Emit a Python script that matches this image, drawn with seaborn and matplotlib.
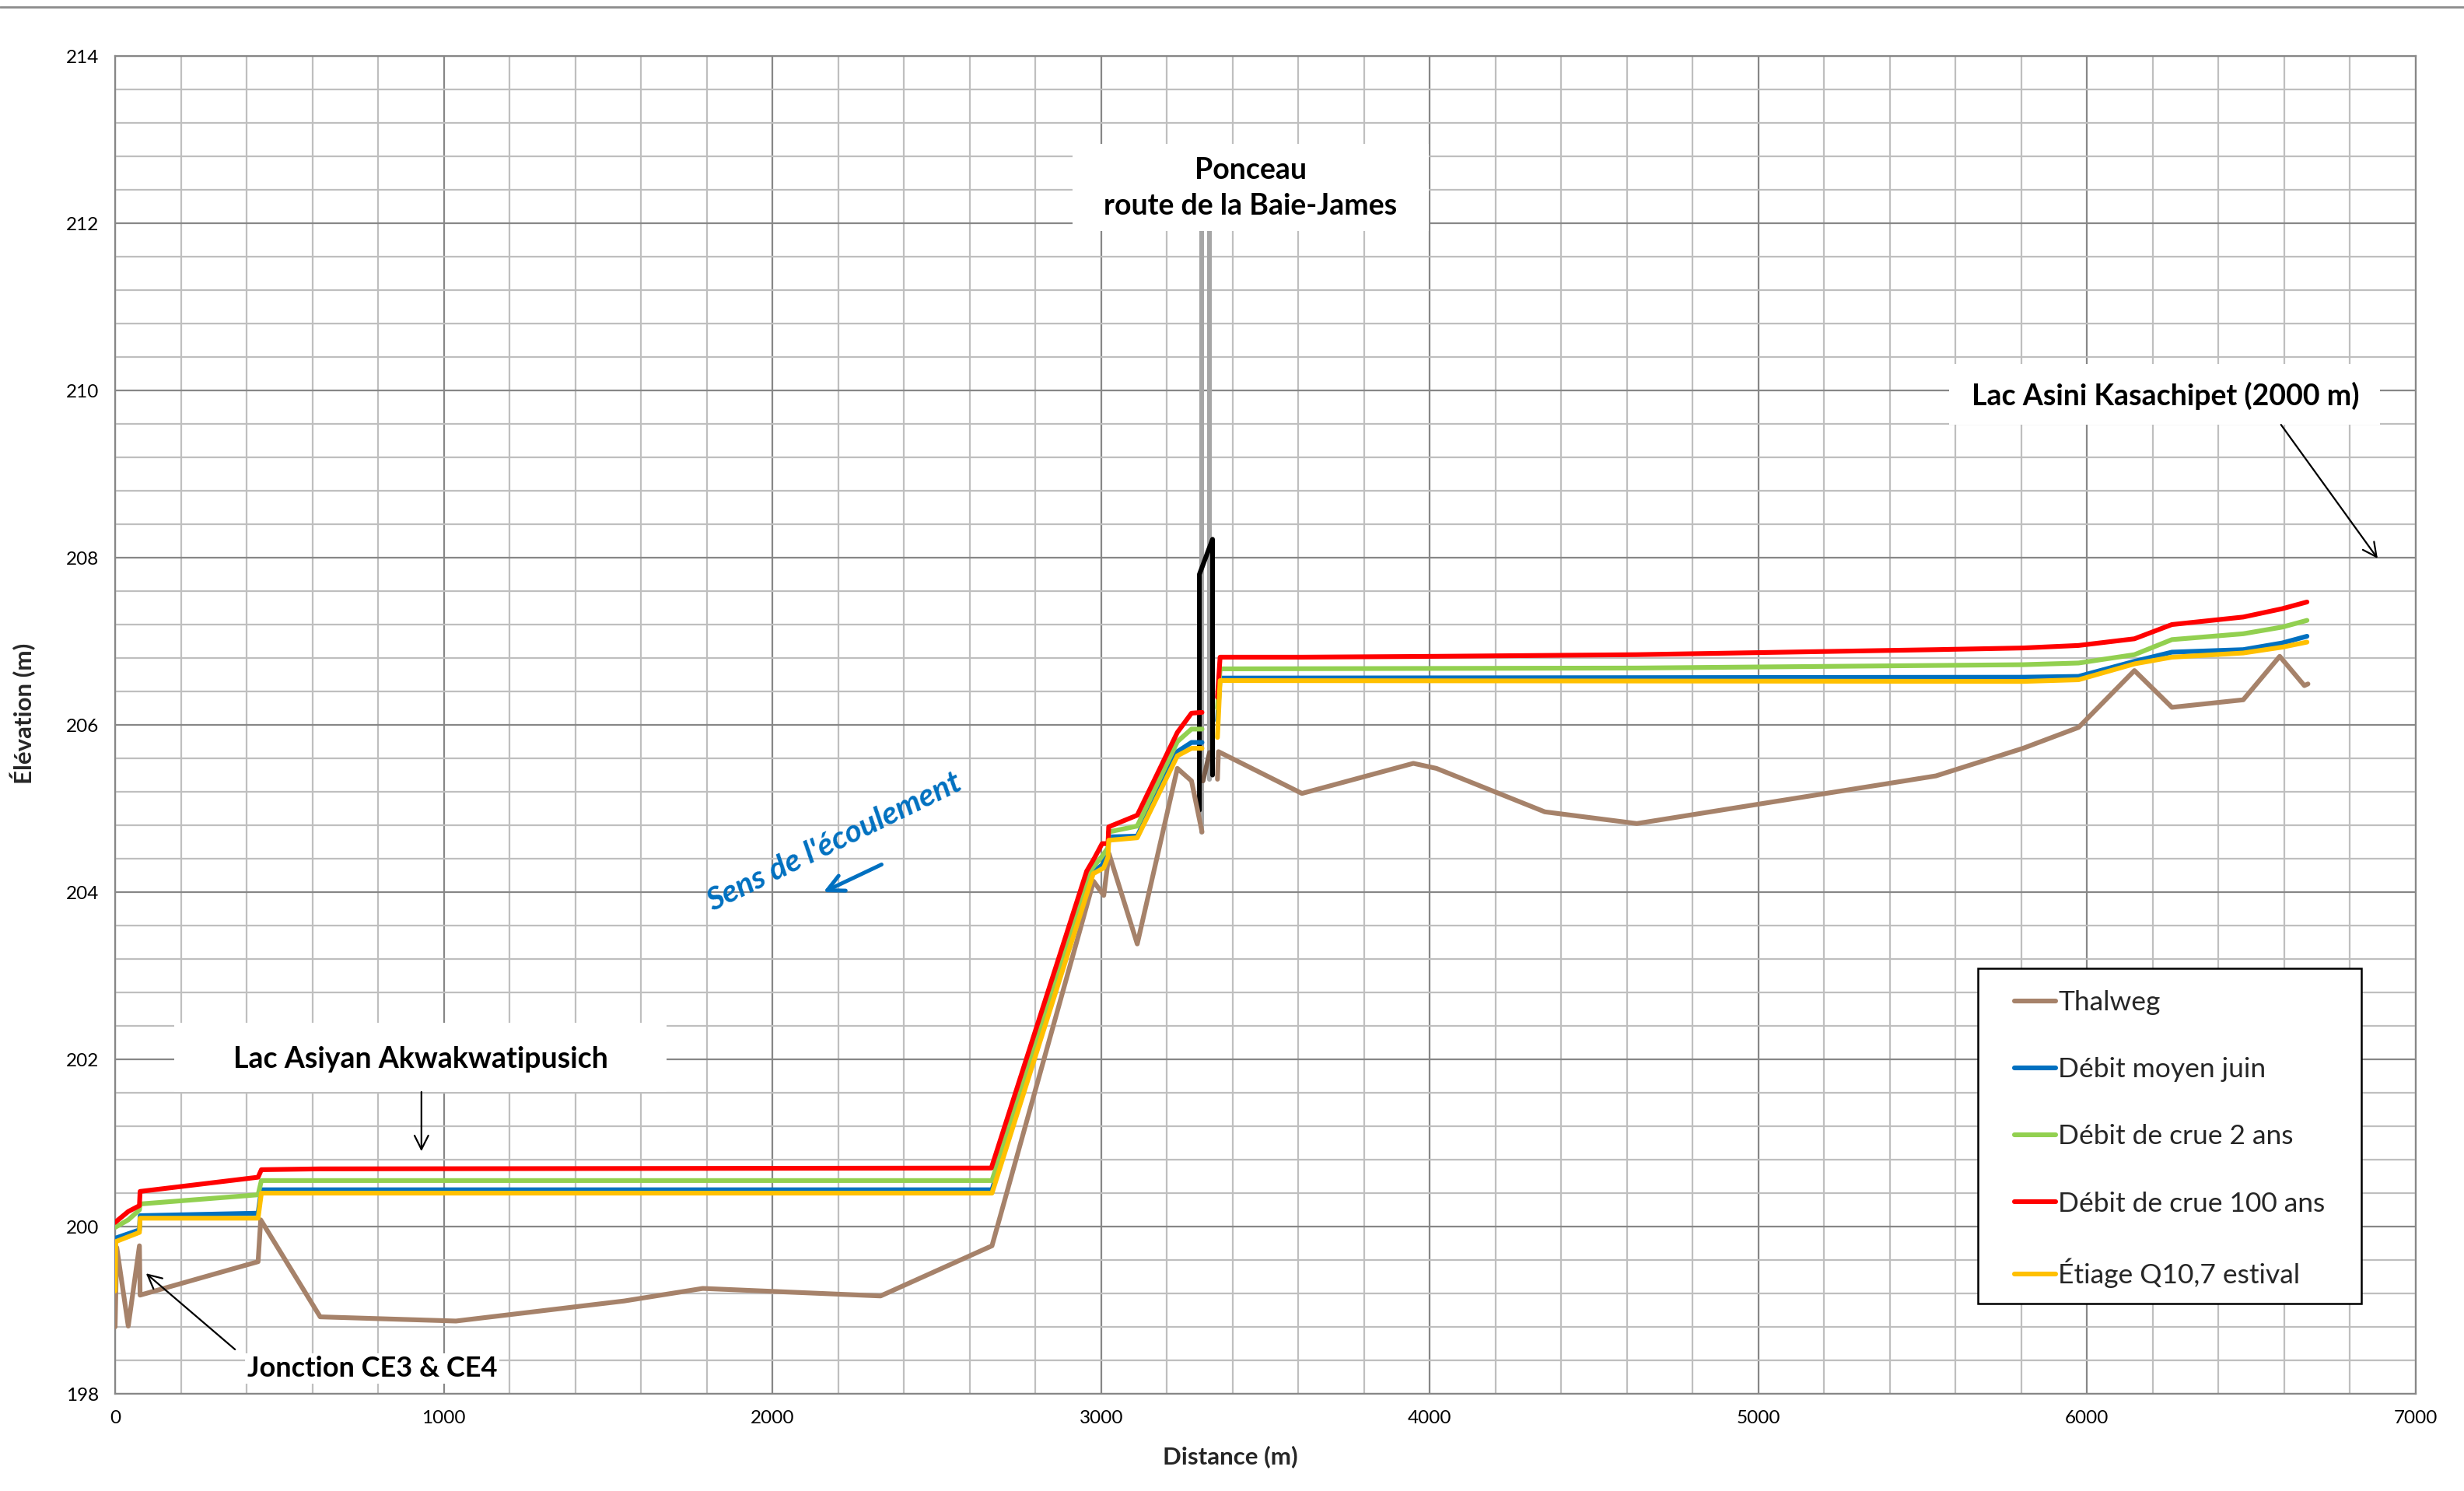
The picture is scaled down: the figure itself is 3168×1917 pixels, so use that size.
import numpy as np
import pandas as pd
import matplotlib
matplotlib.use("Agg")
import matplotlib.pyplot as plt
from matplotlib.lines import Line2D
from matplotlib.patches import Rectangle
import seaborn as sns

# ---------------------------------------------------------------- data
# Each profile is split in two reaches (upstream / downstream of the culvert).
thalweg_d1 = [0, 5, 40, 74, 76, 435, 443, 624, 1037, 1549, 1788, 2329, 2668,
              2977, 3008, 3024, 3110, 3232, 3275, 3307]
thalweg_e1 = [198.80, 199.75, 198.81, 199.77, 199.18, 199.58, 200.08, 198.92,
              198.87, 199.11, 199.26, 199.17, 199.77, 204.13, 203.96, 204.46,
              203.38, 205.48, 205.33, 204.72]
thalweg_d2 = [3354, 3357, 3611, 3950, 4020, 4350, 4630, 5540, 5805, 5974,
              6144, 6258, 6475, 6586, 6661, 6672]
thalweg_e2 = [205.35, 205.68, 205.18, 205.54, 205.48, 204.96, 204.82, 205.39,
              205.72, 205.97, 206.65, 206.21, 206.30, 206.82, 206.47, 206.49]

juin_d1 = [0, 74, 76, 435, 445, 2668, 2975, 3005, 3021, 3023, 3110, 3232, 3275, 3307]
juin_e1 = [199.86, 199.96, 200.13, 200.16, 200.44, 200.44, 204.24, 204.33,
           204.48, 204.66, 204.67, 205.68, 205.79, 205.79]
juin_d2 = [3354, 3362, 5805, 5974, 6144, 6258, 6475, 6594, 6669]
juin_e2 = [206.05, 206.56, 206.57, 206.58, 206.76, 206.87, 206.90, 206.98, 207.06]

crue2_d1 = [0, 40, 74, 76, 435, 445, 2668, 2972, 3003, 3021, 3023, 3110, 3232, 3275, 3307]
crue2_e1 = [199.99, 200.08, 200.20, 200.27, 200.38, 200.55, 200.55, 204.28,
            204.43, 204.53, 204.72, 204.79, 205.80, 205.95, 205.95]
crue2_d2 = [3354, 3362, 4630, 5805, 5974, 6144, 6258, 6475, 6594, 6669]
crue2_e2 = [206.20, 206.67, 206.68, 206.72, 206.74, 206.84, 207.02, 207.09, 207.17, 207.25]

crue100_d1 = [0, 40, 74, 76, 435, 445, 624, 2666, 2956, 2980, 3003, 3021,
              3023, 3110, 3232, 3275, 3307]
crue100_e1 = [200.05, 200.18, 200.25, 200.42, 200.59, 200.68, 200.69, 200.70,
              204.25, 204.41, 204.58, 204.58, 204.78, 204.92, 205.91, 206.14, 206.15]
crue100_d2 = [3354, 3362, 3611, 4020, 4630, 5540, 5805, 5974, 6144, 6258, 6475, 6594, 6669]
crue100_e2 = [206.33, 206.81, 206.81, 206.82, 206.84, 206.90, 206.92, 206.95,
              207.03, 207.20, 207.29, 207.39, 207.47]

etiage_d1 = [0, 2, 74, 76, 435, 445, 2668, 2976, 3008, 3021, 3023, 3110, 3232, 3275, 3307]
etiage_e1 = [199.23, 199.82, 199.93, 200.10, 200.10, 200.40, 200.40, 204.22,
             204.29, 204.42, 204.62, 204.65, 205.63, 205.72, 205.72]
etiage_d2 = [3354, 3362, 5805, 5974, 6144, 6258, 6475, 6594, 6669]
etiage_e2 = [205.85, 206.53, 206.52, 206.54, 206.73, 206.81, 206.86, 206.93, 206.99]

# culvert of the Baie-James road
ponceau_d = [3299, 3299, 3339, 3339]
ponceau_e = [204.98, 207.80, 208.22, 205.40]
radier_d = [3310, 3330]
radier_e = [205.33, 205.67]
route_d1, route_e1 = [3307, 3307], [204.72, 212.60]
route_d2, route_e2 = [3330, 3330], [205.35, 212.60]

series_names = ["Thalweg", "Débit moyen juin", "Débit de crue 2 ans",
                "Débit de crue 100 ans", "Étiage Q10,7 estival"]
series_colors = ["#A6826A", "#0070C0", "#92D050", "#FF0000", "#FFC000"]
series_segments = [
    [(thalweg_d1, thalweg_e1), (thalweg_d2, thalweg_e2)],
    [(juin_d1, juin_e1), (juin_d2, juin_e2)],
    [(crue2_d1, crue2_e1), (crue2_d2, crue2_e2)],
    [(crue100_d1, crue100_e1), (crue100_d2, crue100_e2)],
    [(etiage_d1, etiage_e1), (etiage_d2, etiage_e2)],
]

x_major = list(range(0, 7001, 1000))
y_major = list(range(198, 215, 2))


def to_frame(segments):
    parts = [pd.DataFrame({"dist": d, "elev": e, "seg": k})
             for k, (d, e) in enumerate(segments)]
    return pd.concat(parts, ignore_index=True)


# ---------------------------------------------------------------- figure
sns.set_theme(style="white")
plt.rcParams["font.family"] = ["Lato", "DejaVu Sans"]

W, H = 3168, 1917
fig = plt.figure(figsize=(W / 100, H / 100), dpi=100)
ax = fig.add_axes([148 / W, 1 - 1792 / H, (3106 - 148) / W, (1792 - 72) / H])

LW = 4.4
line_kw = dict(estimator=None, sort=False, legend=False, ax=ax,
               solid_capstyle="round", solid_joinstyle="round")

# road / culvert structure
for d, e in [(route_d1, route_e1), (route_d2, route_e2)]:
    sns.lineplot(x=d, y=e, color="#A6A6A6", lw=LW, zorder=2, **line_kw)
sns.lineplot(x=ponceau_d, y=ponceau_e, color="black", lw=LW, zorder=2.5, **line_kw)
sns.lineplot(x=radier_d, y=radier_e, color="#7A5E4C", lw=LW, zorder=2.4, **line_kw)

# profiles
for name, color, segs, z in zip(series_names, series_colors, series_segments,
                                [3, 3.1, 3.2, 3.3, 3.4]):
    df = to_frame(segs)
    sns.lineplot(data=df, x="dist", y="elev", units="seg", color=color,
                 lw=LW, zorder=z, **line_kw)

# axes, grid
ax.set_xlim(0, 7000)
ax.set_ylim(198, 214)
ax.set_xticks(x_major)
ax.set_xticks(np.arange(0, 7001, 200), minor=True)
ax.set_yticks(y_major)
ax.set_yticks(np.linspace(198, 214, 41), minor=True)
ax.set_axisbelow(True)
ax.grid(which="minor", color="#BFBFBF", lw=1.6, zorder=0)
ax.grid(which="major", color="#878787", lw=1.6, zorder=0.5)
ax.tick_params(which="major", direction="out", length=6, width=1.5,
               color="#878787", labelsize=17.5, pad=9, labelcolor="black")
ax.tick_params(which="minor", length=0)
for s in ax.spines.values():
    s.set_color("#878787")
    s.set_linewidth(1.6)

ax.set_xlabel("Distance (m)", fontsize=22.5, fontweight="bold")
ax.set_ylabel("Élévation (m)", fontsize=22.5, fontweight="bold")
ax.xaxis.set_label_coords(1582 / W, 1 - 1858 / H, transform=fig.transFigure)
ax.yaxis.set_label_coords(46 / W, 1 - 917 / H, transform=fig.transFigure)

# annotation boxes
box_kw = dict(facecolor="white", edgecolor="none", zorder=5)
txt_kw = dict(fontsize=27, fontweight="bold", ha="center", va="center",
              color="black", zorder=6)

ax.add_patch(Rectangle((2912, 211.91), 3998 - 2912, 212.95 - 211.91, **box_kw))
ax.text(3454, 212.42, "Ponceau\nroute de la Baie-James", linespacing=1.45, **txt_kw)

ax.add_patch(Rectangle((5580, 209.59), 6891 - 5580, 210.32 - 209.59, **box_kw))
ax.text(6238, 209.94, "Lac Asini Kasachipet (2000 m)", **txt_kw)

ax.add_patch(Rectangle((181, 201.61), 1678 - 181, 202.44 - 201.61, **box_kw))
ax.text(929, 202.0, "Lac Asiyan Akwakwatipusich", **txt_kw)

ax.text(782, 198.30, "Jonction CE3 & CE4",
        bbox=dict(facecolor="white", edgecolor="none", pad=2),
        **{**txt_kw, "fontsize": 26})

arrow_kw = dict(arrowstyle="->", color="black", lw=1.6, mutation_scale=32,
                shrinkA=0, shrinkB=0)
ax.annotate("", xy=(6884, 207.99), xytext=(6590, 209.59), arrowprops=arrow_kw, zorder=6)
ax.annotate("", xy=(932, 200.90), xytext=(932, 201.61), arrowprops=arrow_kw, zorder=6)
ax.annotate("", xy=(94, 199.44), xytext=(365, 198.53), arrowprops=arrow_kw, zorder=6)

# flow direction
ax.text(2188, 204.60, "Sens de l'écoulement", rotation=26, rotation_mode="anchor",
        fontsize=29.5, fontweight="bold", fontstyle="italic", color="#0070C0",
        ha="center", va="center", zorder=6)
ax.annotate("", xy=(2155, 204.0), xytext=(2332, 204.33),
            arrowprops=dict(arrowstyle="->", color="#0070C0", lw=3.6,
                            mutation_scale=38, shrinkA=0, shrinkB=0), zorder=6)

# legend: frame drawn as a figure rectangle, entries placed inside it
fig.add_artist(Rectangle((2543 / W, 1 - 1676 / H), (3036 - 2543) / W, (1676 - 1245) / H,
                         transform=fig.transFigure, facecolor="white",
                         edgecolor="black", lw=1.8, zorder=7))
handles = [Line2D([], [], color=c, lw=LW, solid_capstyle="round")
           for c in series_colors]
leg = fig.legend(handles, series_names, loc="upper left",
                 bbox_to_anchor=(2590 / W, 1 - 1273 / H),
                 bbox_transform=fig.transFigure, fontsize=25.5,
                 frameon=False, handlelength=1.49, handletextpad=0.1,
                 labelspacing=1.53, borderpad=0, borderaxespad=0)
leg.set_zorder(8)

# outer chart border (top edge)
fig.add_artist(Line2D([0, 1], [1 - 9 / H] * 2, color="#8C8C8C", lw=2))

fig.savefig("out.png", dpi=100, facecolor="white")
